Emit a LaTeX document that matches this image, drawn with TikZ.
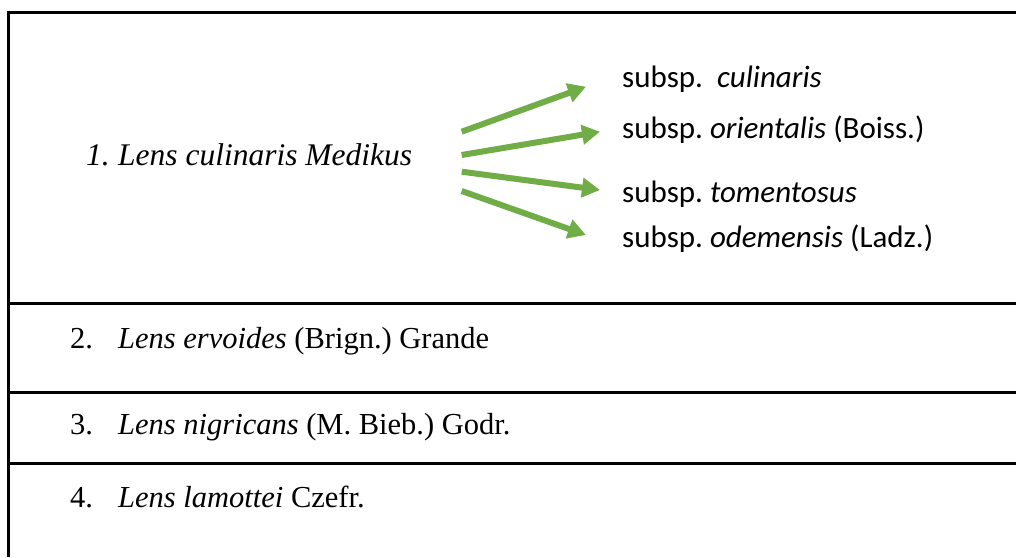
\documentclass[tikz,border=0pt]{standalone}
\usepackage{fontspec}
\setmainfont{Liberation Serif}
\newfontfamily\calibri{Carlito}
\usetikzlibrary{arrows.meta}
\definecolor{arrowgreen}{HTML}{70AD47}
\begin{document}
\frenchspacing
\begin{tikzpicture}[x=1pt,y=-1pt,
  rule/.style={line width=3pt},
  tnr/.style={anchor=base west,inner sep=0pt,font=\frenchspacing\fontsize{30.5}{36}\selectfont},
  tnrbig/.style={anchor=base west,inner sep=0pt,font=\frenchspacing\fontsize{31.5}{37}\selectfont},
  cal/.style={anchor=base west,inner sep=0pt,font=\frenchspacing\calibri\fontsize{31}{37}\selectfont},
  garrow/.style={draw=arrowgreen,line width=6pt,-{Triangle[length=18pt,width=19pt]}}]
\useasboundingbox (0,0) rectangle (1016,557);
% table rules
\draw[rule] (8.5,557) -- (8.5,12.5) -- (1016,12.5);
\draw[rule] (7,303.5) -- (1016,303.5);
\draw[rule] (7,392.5) -- (1016,392.5);
\draw[rule] (7,463.5) -- (1016,463.5);
% row 1
\node[tnrbig] (n1) at (86,165) {\itshape 1.};
\node[tnrbig] (main) at (118,165) {\itshape Lens culinaris Medikus};
\node[cal] (s1) at (622,87) {subsp.\ \ \textit{culinaris}};
\node[cal] (s2) at (622,138) {subsp. \textit{orientalis} (Boiss.)};
\node[cal] (s3) at (622,202) {subsp. \textit{tomentosus}};
\node[cal] (s4) at (622,247) {subsp. \textit{odemensis} (Ladz.)};
% arrows
\coordinate (a1s) at (461.7,131.7); \coordinate (a1e) at (586,86.7);
\coordinate (a2s) at (461.7,155);   \coordinate (a2e) at (600,131.7);
\coordinate (a3s) at (461.7,171.7); \coordinate (a3e) at (600,190);
\coordinate (a4s) at (461.7,191);   \coordinate (a4e) at (586,235);
\draw[garrow] (a1s) -- (a1e);
\draw[garrow] (a2s) -- (a2e);
\draw[garrow] (a3s) -- (a3e);
\draw[garrow] (a4s) -- (a4e);
% rows 2-4
\node[tnr] (n2) at (70,348) {2.};
\node[tnr] (r2) at (118,348) {\textit{Lens ervoides} (Brign.) Grande};
\node[tnr] (n3) at (70,434) {3.};
\node[tnr] (r3) at (118,434) {\textit{Lens nigricans} (M. Bieb.) Godr.};
\node[tnr] (n4) at (70,507) {4.};
\node[tnr] (r4) at (118,507) {\textit{Lens lamottei} Czefr.};
\end{tikzpicture}
\end{document}
